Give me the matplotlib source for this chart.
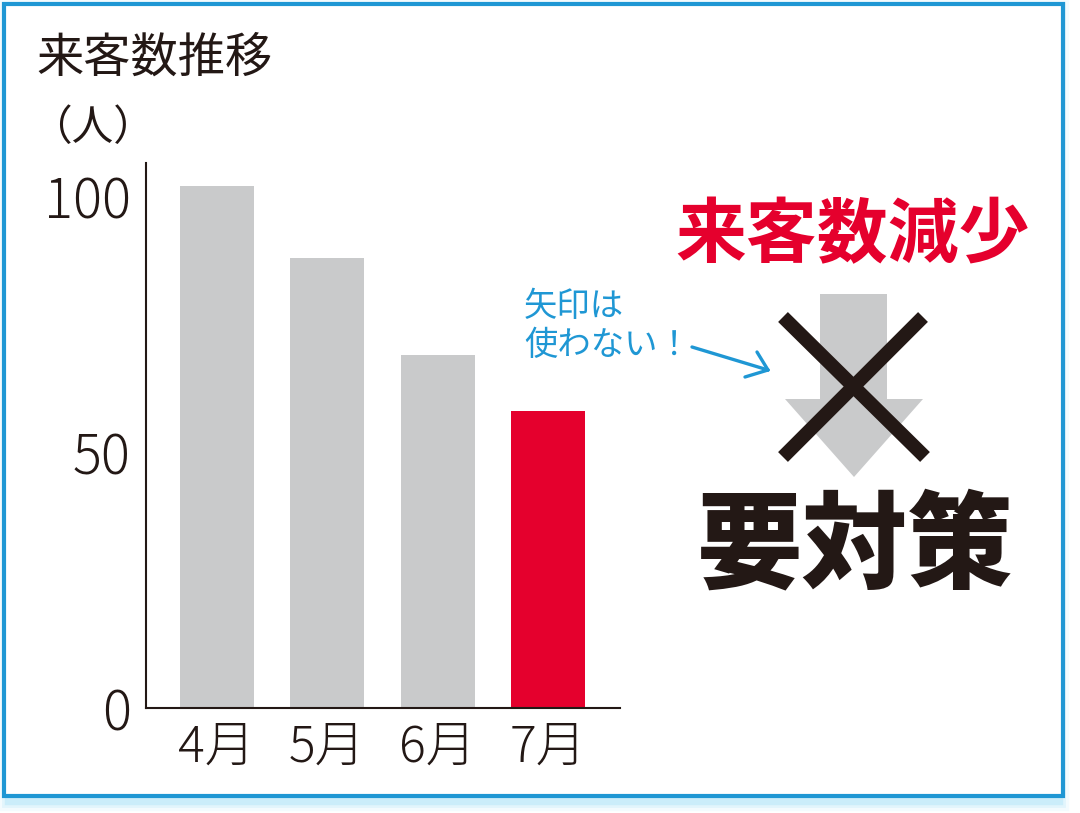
import matplotlib.pyplot as plt
from matplotlib.patches import Rectangle, Polygon
from matplotlib.lines import Line2D

plt.rcParams['font.family'] = ['Noto Sans CJK JP', 'DejaVu Sans']

months = ["4月", "5月", "6月", "7月"]
visitors = [102, 88, 69, 58]
bar_colors = ["#c9cacb", "#c9cacb", "#c9cacb", "#e5002d"]
y_ticks = [0, 50, 100]

INK = "#231815"
BLUE = "#1f97d4"

W, H = 1080, 813
fig = plt.figure(figsize=(W / 100, H / 100), dpi=100)


def fx(x):
    return x / W


def fy(y):
    return 1 - y / H


# frame with light blue glow
for lw, a in [(14, 0.08), (10, 0.12), (6, 0.2)]:
    fig.patches.append(Rectangle((fx(9), fy(801)), fx(1059) - fx(9), fy(9) - fy(801),
                                 transform=fig.transFigure, fill=False,
                                 edgecolor="#6fcdf5", lw=lw, alpha=a, zorder=-2))
fig.patches.append(Rectangle((fx(4), fy(796)), fx(1063) - fx(4), fy(4) - fy(796),
                             transform=fig.transFigure, facecolor="white",
                             edgecolor=BLUE, lw=3, zorder=-1))

ax = fig.add_axes((fx(146), fy(708), fx(620) - fx(146), fy(163) - fy(708)))
ax.bar(range(len(months)), visitors, width=0.67, color=bar_colors)
ax.set_xlim(-0.64, 3.65)
ax.set_ylim(0, 106.5)
ax.set_yticks(y_ticks)
ax.set_xticks(range(len(months)))
ax.set_xticklabels(months)
ax.tick_params(axis="y", length=0, pad=11, labelsize=39, labelcolor=INK)
ax.tick_params(axis="x", length=0, pad=10, labelsize=36, labelcolor=INK)
for lab in ax.get_yticklabels() + ax.get_xticklabels():
    lab.set_fontweight("light")
ax.spines[["top", "right"]].set_visible(False)
for s in ["left", "bottom"]:
    ax.spines[s].set_color(INK)
    ax.spines[s].set_linewidth(1.5)
ax.patch.set_alpha(0)

fig.text(fx(36), fy(58), "来客数推移", fontsize=34, color=INK, va="center",
         ha="left")
fig.text(fx(30), fy(129), "（人）", fontsize=30, color=INK, va="center",
         ha="left")

# right side message
fig.text(fx(853), fy(236), "来客数減少", fontsize=51, color="#e5002d",
         fontweight="bold", ha="center", va="center")
fig.text(fx(855), fy(548), "要対策", fontsize=76, color=INK,
         fontweight="black", ha="center", va="center")

# grey down arrow
arrow_px = [(820, 294), (887, 294), (887, 399), (923, 399), (854, 477),
            (785, 399), (820, 399)]
fig.patches.append(Polygon([(fx(x), fy(y)) for x, y in arrow_px],
                           closed=True, transform=fig.transFigure,
                           facecolor="#c9cacb", edgecolor="none"))

# black cross
for (x0, y0), (x1, y1) in [((783, 317), (925, 457)), ((923, 317), (783, 457))]:
    fig.lines.append(Line2D([fx(x0), fx(x1)], [fy(y0), fy(y1)],
                            transform=fig.transFigure, color=INK, lw=10,
                            solid_capstyle="butt"))

# handwritten note
fig.text(fx(524), fy(289), "矢印は\n使わない！", fontsize=24, color=BLUE,
         ha="left", va="top", linespacing=1.15)
for (x0, y0), (x1, y1) in [((692, 347), (768, 370)), ((757, 352), (768, 370)),
                           ((745, 377), (768, 370))]:
    fig.lines.append(Line2D([fx(x0), fx(x1)], [fy(y0), fy(y1)],
                            transform=fig.transFigure, color=BLUE, lw=2.4,
                            solid_capstyle="round"))

fig.savefig("out.png", dpi=100)
